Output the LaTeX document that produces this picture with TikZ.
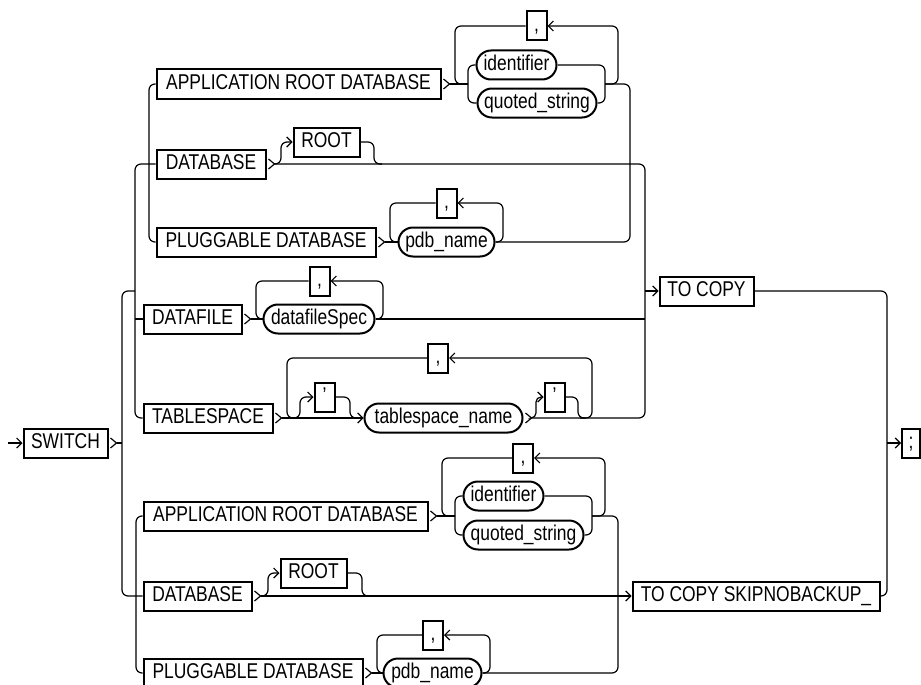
\documentclass[tikz,border=0pt]{standalone}
\usepackage{fontspec}
\setmainfont{Liberation Sans}[FakeStretch=0.815]
\usetikzlibrary{arrows.meta}
\tikzset{
 rail/.style={line width=1.2pt, rounded corners=6pt},
 chev/.style={line width=1.2pt, sharp corners},
 >={Straight Barb[length=5pt,width=10pt]},
 termbase/.style={draw, line width=2pt, minimum height=29pt, inner xsep=2pt, inner ysep=0pt, text height=15.5pt, text depth=4.5pt},
 kwbox/.style={termbase, rectangle},
 ntbox/.style={termbase, rectangle, rounded corners=14.5pt},
}
\newcommand\railchev[1]{\path (#1.east) ++(8,0) coordinate (#1-t); \draw[chev] (#1-t) ++(-6,-5) -- (#1-t) -- ++(-6,5);}
\begin{document}
\begin{tikzpicture}[x=1pt,y=-1pt,font=\fontsize{21.4pt}{24pt}\selectfont]
\useasboundingbox (0,0) rectangle (921,685);
% nodes
\node[kwbox,minimum width=84pt] (sw) at (65.5,443) {SWITCH};
\node[kwbox,minimum width=284pt] (app1) at (298.5,84) {APPLICATION ROOT DATABASE};
\node[kwbox,minimum width=20pt] (c1) at (536.5,26) {,};
\node[ntbox,minimum width=80pt] (id1) at (516.5,65) {identifier};
\node[ntbox,minimum width=119pt] (qs1) at (537,103) {quoted\_string};
\node[kwbox,minimum width=109pt] (db1) at (211,164) {DATABASE};
\node[kwbox,minimum width=66pt] (root1) at (326.5,142) {ROOT};
\node[kwbox,minimum width=219pt] (pl1) at (266,242) {PLUGGABLE DATABASE};
\node[kwbox,minimum width=20pt] (c2) at (446.5,203) {,};
\node[ntbox,minimum width=96pt] (pdb1) at (446.5,242) {pdb\_name};
\node[kwbox,minimum width=98pt] (df) at (192.5,319) {DATAFILE};
\node[kwbox,minimum width=20pt] (c3) at (319.5,281) {,};
\node[ntbox,minimum width=111pt] (dfs) at (319,319) {datafileSpec};
\node[kwbox,minimum width=129pt] (ts) at (208,418) {TABLESPACE};
\node[kwbox,minimum width=20pt] (q1) at (324.5,397) {'};
\node[kwbox,minimum width=20pt] (c4) at (438,358) {,};
\node[ntbox,minimum width=158pt] (tsn) at (443.5,418) {tablespace\_name};
\node[kwbox,minimum width=20pt] (q2) at (554.5,397) {'};
\node[kwbox,minimum width=94pt] (tc) at (706.5,291) {TO COPY};
\node[kwbox,minimum width=284pt] (app2) at (285.5,516) {APPLICATION ROOT DATABASE};
\node[kwbox,minimum width=20pt] (c5) at (523,458) {,};
\node[ntbox,minimum width=80pt] (id2) at (503.5,496) {identifier};
\node[ntbox,minimum width=120pt] (qs2) at (523.5,535) {quoted\_string};
\node[kwbox,minimum width=108pt] (db2) at (197.5,596) {DATABASE};
\node[kwbox,minimum width=66pt] (root2) at (313.5,573) {ROOT};
\node[kwbox,minimum width=219pt] (pl2) at (253,673) {PLUGGABLE DATABASE};
\node[kwbox,minimum width=20pt] (c6) at (433,635) {,};
\node[ntbox,minimum width=98pt] (pdb2) at (432.5,673) {pdb\_name};
\node[kwbox,minimum width=247pt] (tcs) at (756,596) {TO COPY SKIPNOBACKUP\_};
\node[kwbox,minimum width=18pt] (semi) at (911,443) {;};
% chevrons after boxes
\railchev{sw}
\railchev{app1}
\railchev{db1}
\railchev{pl1}
\railchev{df}
\railchev{ts}
\railchev{tsn}
\railchev{app2}
\railchev{db2}
\railchev{pl2}
% entry
\coordinate (start) at (8,443);
\draw[rail,->] (start) -- (sw.west);
\draw[rail] (sw-t) -- (122,443);
% main left rails
\draw[rail] (135,291) -- (122,291) -- (122,596) -- (db2.west);
\draw[rail] (db1.west) -- (135,164) -- (135,418) -- (ts.west);
\draw[rail] (135,319) -- (df.west);
\draw[rail] (app1.west) -- (149,84) -- (149,242) -- (pl1.west);
\draw[rail] (app2.west) -- (136,516) -- (136,673) -- (pl2.west);
% application root database (upper)
\draw[rail] (app1-t) -- (468,84);
\draw[rail] (id1.west) -- (468,65) -- (468,103) -- (qs1.west);
\draw[rail] (id1.east) -- (605,65) -- (605,103) -- (qs1.east);
\draw[rail] (605,84) -- (630,84) -- (630,242) -- (pdb1.east);
\draw[rail,->] (605,84) -- (618,84) -- (618,26) -- (c1.east);
\draw[rail] (c1.west) -- (455,26) -- (455,84) -- (468,84);
% database (upper)
\draw[rail] (db1-t) -- (645,164) -- (645,418) -- (tsn-t);
\draw[rail,->] (db1-t) -- (281,164) -- (281,142) -- (root1.west);
\draw[rail] (root1.east) -- (374,142) -- (374,164) -- (382,164);
% pluggable database (upper)
\draw[rail] (pl1-t) -- (pdb1.west);
\draw[rail,->] (pdb1.east) -- (503,242) -- (503,203) -- (c2.east);
\draw[rail] (c2.west) -- (390,203) -- (390,242) -- (pdb1.west);
% datafile
\draw[rail] (df-t) -- (dfs.west);
\draw[rail] (dfs.east) -- (645,319);
\draw[rail,->] (dfs.east) -- (383,319) -- (383,281) -- (c3.east);
\draw[rail] (c3.west) -- (256,281) -- (256,319) -- (dfs.west);
% tablespace
\draw[rail,->] (ts-t) -- (tsn.west);
\draw[rail,->] (ts-t) -- (300,418) -- (300,397) -- (q1.west);
\draw[rail] (q1.east) -- (350,397) -- (350,418) -- (358,418);
\draw[rail] (c4.west) -- (287,358) -- (287,418) -- (295,418);
\draw[rail,->,rounded corners=5pt] (tsn-t) -- (536,418) -- (536,397) -- (q2.west);
\draw[rail] (q2.east) -- (578,397) -- (578,418) -- (585,418);
\draw[rail,->] (580,418) -- (592,418) -- (592,358) -- (c4.east);
% to copy and end
\draw[rail,->] (645,291) -- (tc.west);
\draw[rail] (tc.east) -- (887,291) -- (887,596) -- (tcs.east);
\draw[rail,->] (887,443) -- (semi.west);
% application root database (lower)
\draw[rail] (app2-t) -- (455,516);
\draw[rail] (id2.west) -- (455,496) -- (455,535) -- (qs2.west);
\draw[rail] (id2.east) -- (592,496) -- (592,535) -- (qs2.east);
\draw[rail] (592,516) -- (618,516) -- (618,673) -- (pdb2.east);
\draw[rail,->] (592,516) -- (605,516) -- (605,458) -- (c5.east);
\draw[rail] (c5.west) -- (442,458) -- (442,516) -- (455,516);
% database (lower)
\draw[rail,->] (db2-t) -- (tcs.west);
\draw[rail,->] (db2-t) -- (268,596) -- (268,573) -- (root2.west);
\draw[rail] (root2.east) -- (362,573) -- (362,596) -- (370,596);
% pluggable database (lower)
\draw[rail] (pl2-t) -- (pdb2.west);
\draw[rail,->] (pdb2.east) -- (490,673) -- (490,635) -- (c6.east);
\draw[rail] (c6.west) -- (377,635) -- (377,673) -- (pdb2.west);
\end{tikzpicture}
\end{document}
